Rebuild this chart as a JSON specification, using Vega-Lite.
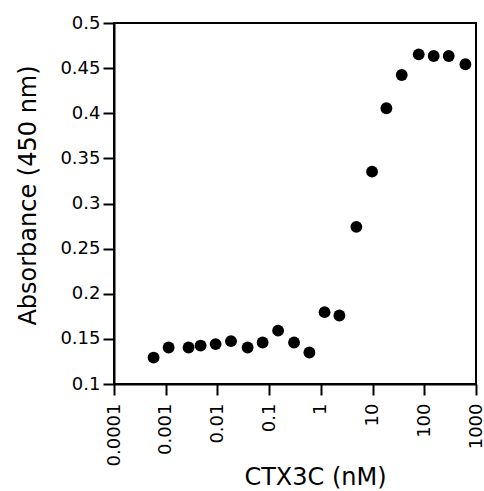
{
  "$schema": "https://vega.github.io/schema/vega-lite/v6.json",
  "width": 362,
  "height": 361,
  "autosize": {"type": "none"},
  "padding": {"left": 114, "top": 23, "right": 8, "bottom": 107},
  "background": "white",
  "config": {
    "view": {"stroke": "black", "strokeWidth": 2},
    "axis": {
      "grid": false,
      "domainColor": "black",
      "domainWidth": 2,
      "tickColor": "black",
      "tickWidth": 2,
      "tickSize": 11,
      "labelColor": "black",
      "labelFont": "DejaVu Sans",
      "labelFontSize": 18,
      "titleColor": "black",
      "titleFont": "DejaVu Sans",
      "titleFontSize": 24,
      "titleFontWeight": "normal"
    }
  },
  "data": {
    "values": [
      {"conc": 0.000583, "abs": 0.1293},
      {"conc": 0.00114, "abs": 0.1404},
      {"conc": 0.00277, "abs": 0.1404},
      {"conc": 0.00473, "abs": 0.1426},
      {"conc": 0.00923, "abs": 0.1442},
      {"conc": 0.0183, "abs": 0.1475},
      {"conc": 0.0384, "abs": 0.1404},
      {"conc": 0.0748, "abs": 0.146},
      {"conc": 0.149, "abs": 0.1592},
      {"conc": 0.303, "abs": 0.146},
      {"conc": 0.6, "abs": 0.1349},
      {"conc": 1.18, "abs": 0.1796},
      {"conc": 2.28, "abs": 0.1759},
      {"conc": 4.86, "abs": 0.2741},
      {"conc": 9.78, "abs": 0.3353},
      {"conc": 18.5, "abs": 0.4055},
      {"conc": 36.6, "abs": 0.4424},
      {"conc": 78, "abs": 0.4653},
      {"conc": 152, "abs": 0.4634},
      {"conc": 297, "abs": 0.4634},
      {"conc": 624, "abs": 0.4543}
    ]
  },
  "mark": {"type": "circle", "size": 140, "color": "black", "opacity": 1},
  "encoding": {
    "x": {
      "field": "conc",
      "type": "quantitative",
      "scale": {"type": "log", "domain": [0.0001, 1000]},
      "axis": {
        "title": "CTX3C (nM)",
        "values": [0.0001, 0.001, 0.01, 0.1, 1, 10, 100, 1000],
        "labelExpr": "datum.value + ''",
        "labelAngle": 270,
        "labelAlign": "right",
        "labelBaseline": "middle",
        "labelPadding": 8,
        "titleX": 201,
        "titleY": 100,
        "titleBaseline": "alphabetic"
      }
    },
    "y": {
      "field": "abs",
      "type": "quantitative",
      "scale": {"domain": [0.1, 0.5], "zero": false},
      "axis": {
        "title": "Absorbance (450 nm)",
        "values": [0.1, 0.15, 0.2, 0.25, 0.3, 0.35, 0.4, 0.45, 0.5],
        "labelExpr": "datum.value + ''",
        "labelPadding": 3,
        "titleX": -86,
        "titleY": 172,
        "titleBaseline": "middle"
      }
    }
  }
}
